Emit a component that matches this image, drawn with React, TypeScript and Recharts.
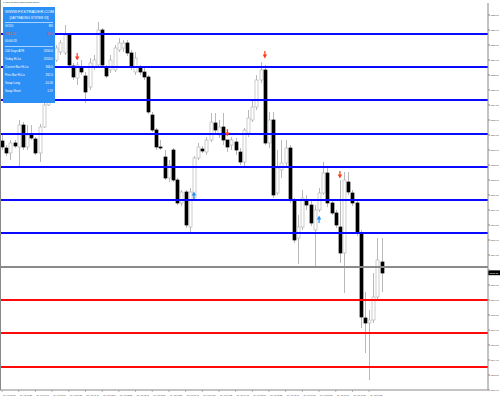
import { ComposedChart, Bar, Line, XAxis, YAxis, ReferenceLine } from 'recharts';

// 5 minute gold candles
const times = [
  '31 Aug 00:05', '31 Aug 00:25', '31 Aug 00:45', '31 Aug 01:05', '31 Aug 01:25', '31 Aug 01:45',
  '31 Aug 02:05', '31 Aug 02:25', '31 Aug 02:45', '31 Aug 03:05', '31 Aug 03:25', '31 Aug 03:45',
  '31 Aug 04:05', '31 Aug 04:25', '31 Aug 04:45', '31 Aug 05:05', '31 Aug 05:25', '31 Aug 05:45',
  '31 Aug 06:05', '31 Aug 06:25', '31 Aug 06:45', '31 Aug 07:05', '31 Aug 07:25',
];

const opens = [
  1315.9, 1315.2, 1314.7, 1315.7, 1315.3, 1317.5, 1315.3, 1316.5, 1316.1, 1314.7,
  1317.3, 1319.5, 1322.0, 1324.0, 1324.8, 1324.7, 1326.5, 1323.4, 1322.2, 1323.3,
  1322.4, 1321.3, 1323.3, 1323.5, 1327.0, 1323.2, 1323.0, 1323.0, 1325.0, 1325.2,
  1325.7, 1324.7, 1322.8, 1323.2, 1322.8, 1322.3, 1318.5, 1317.0, 1315.3, 1314.3,
  1312.2, 1315.0, 1312.0, 1309.7, 1310.8, 1307.3, 1310.2, 1314.2, 1315.1, 1314.8,
  1316.0, 1317.7, 1316.5, 1317.3, 1316.0, 1315.5, 1315.8, 1314.8, 1313.8, 1316.7,
  1318.0, 1319.3, 1322.0, 1323.0, 1315.7, 1318.0, 1310.7, 1313.0, 1313.7, 1315.2,
  1310.0, 1306.2, 1307.3, 1310.0, 1309.5, 1307.0, 1309.0, 1310.7, 1312.7, 1309.7,
  1308.7, 1307.3, 1304.7, 1311.8, 1310.7, 1309.7, 1306.7, 1298.2, 1297.7, 1298.0,
  1300.3, 1303.8,
];
const highs = [
  1316.5, 1315.5, 1316.0, 1316.0, 1318.0, 1317.8, 1317.5, 1317.5, 1316.3, 1317.6,
  1319.7, 1322.5, 1324.5, 1325.5, 1326.0, 1327.5, 1326.7, 1323.7, 1323.8, 1324.0,
  1322.8, 1324.2, 1324.5, 1327.8, 1327.2, 1323.5, 1324.5, 1325.5, 1326.2, 1326.0,
  1326.0, 1325.0, 1324.8, 1323.5, 1323.2, 1322.5, 1318.8, 1317.2, 1316.0, 1315.0,
  1314.0, 1315.2, 1312.2, 1311.0, 1311.0, 1311.2, 1314.4, 1315.7, 1315.4, 1316.3,
  1318.7, 1318.7, 1318.0, 1318.7, 1316.0, 1316.3, 1316.2, 1315.2, 1317.2, 1319.0,
  1320.0, 1322.5, 1323.8, 1323.5, 1318.8, 1318.8, 1315.0, 1316.0, 1316.0, 1315.5,
  1310.2, 1308.5, 1311.0, 1310.5, 1310.0, 1309.5, 1311.2, 1313.8, 1313.2, 1310.0,
  1309.0, 1312.0, 1312.8, 1312.8, 1311.0, 1310.0, 1307.0, 1300.8, 1299.0, 1302.7,
  1306.2, 1306.2,
];
const lows = [
  1315.0, 1314.4, 1314.0, 1315.2, 1313.3, 1315.0, 1315.0, 1316.0, 1314.5, 1313.8,
  1317.2, 1319.4, 1321.5, 1323.8, 1324.5, 1324.5, 1323.3, 1322.0, 1321.5, 1322.5,
  1319.7, 1321.0, 1323.0, 1323.3, 1323.2, 1322.2, 1322.7, 1322.8, 1324.8, 1324.8,
  1324.4, 1323.0, 1322.5, 1322.5, 1322.0, 1318.6, 1316.8, 1315.0, 1315.0, 1312.0,
  1311.8, 1311.8, 1309.5, 1309.4, 1307.2, 1306.8, 1310.0, 1314.0, 1314.7, 1314.5,
  1315.8, 1316.7, 1316.2, 1315.5, 1314.8, 1315.0, 1314.5, 1313.5, 1313.3, 1316.3,
  1317.8, 1319.0, 1321.7, 1315.5, 1315.2, 1310.2, 1310.5, 1312.2, 1313.4, 1309.7,
  1305.7, 1303.6, 1307.0, 1309.0, 1307.4, 1303.3, 1308.8, 1310.5, 1309.3, 1308.5,
  1307.2, 1303.7, 1300.7, 1310.5, 1309.4, 1306.4, 1297.2, 1294.7, 1292.0, 1297.7,
  1300.0, 1300.8,
];
const closes = [
  1315.3, 1314.7, 1315.7, 1315.4, 1317.5, 1315.3, 1316.5, 1316.2, 1314.7, 1317.3,
  1319.5, 1322.0, 1324.0, 1325.2, 1325.7, 1326.5, 1323.5, 1322.3, 1323.5, 1322.8,
  1320.8, 1323.7, 1324.0, 1327.0, 1323.5, 1322.4, 1324.0, 1325.2, 1325.7, 1325.7,
  1324.7, 1323.3, 1324.2, 1322.8, 1322.3, 1318.8, 1317.0, 1315.3, 1315.2, 1312.2,
  1313.5, 1312.0, 1309.7, 1310.8, 1307.5, 1310.8, 1314.2, 1315.3, 1314.9, 1316.0,
  1317.8, 1317.0, 1317.3, 1316.0, 1315.3, 1316.0, 1315.0, 1313.8, 1317.0, 1318.2,
  1319.3, 1322.0, 1323.0, 1315.7, 1318.0, 1310.5, 1313.2, 1313.7, 1315.2, 1310.0,
  1306.0, 1307.3, 1310.2, 1309.5, 1307.7, 1309.0, 1310.7, 1312.7, 1309.7, 1308.7,
  1307.5, 1304.7, 1312.0, 1310.8, 1309.7, 1306.7, 1298.3, 1297.7, 1298.0, 1300.3,
  1304.0, 1302.7,
];

const blueLevels = [1326.6, 1323.3, 1320.0, 1316.6, 1313.3, 1310.0, 1306.7];
const grayLevels = [1303.3];
const redLevels = [1300.0, 1296.7, 1293.3];

// [candle index, price]
const sellSignals = [[18, 1324.3], [54, 1316.7], [63, 1324.5], [81, 1312.5]];
const buySignals = [[46, 1310.5], [76, 1308.1]];

const priceTicks = [
  1328.5, 1327.0, 1325.5, 1324.0, 1322.5, 1321.0, 1319.5, 1318.0, 1316.5, 1315.0, 1313.5, 1312.0, 1310.5,
  1309.0, 1307.5, 1306.0, 1304.5, 1303.0, 1301.5, 1300.0, 1298.5, 1297.0, 1295.5, 1294.0, 1292.5, 1291.0,
];
const lastPrice = 1302.72;
const SLOTS = 117; // bars + empty chart shift on the right

const rows = Array.from({ length: SLOTS }, (_, i) => {
  const s = sellSignals.find((p) => p[0] === i);
  const b = buySignals.find((p) => p[0] === i);
  return {
    i,
    o: opens[i],
    h: highs[i],
    l: lows[i],
    c: closes[i],
    sell: s ? s[1] : null,
    buy: b ? b[1] : null,
  };
});

function Candle(props: any) {
  const { x, y, width, height, payload } = props;
  if (payload == null || payload.h == null) return null;
  const top = Math.min(y, y + height);
  const span = Math.abs(height);
  const range = payload.h - payload.l;
  const k = range > 0 ? span / range : 0;
  const cx = Math.round(x + width / 2) + 0.5;
  const bodyTop = top + (payload.h - Math.max(payload.o, payload.c)) * k;
  const bodyBot = top + (payload.h - Math.min(payload.o, payload.c)) * k;
  const up = payload.c >= payload.o;
  return (
    <g>
      <line x1={cx} x2={cx} y1={top} y2={top + span} stroke="#b8b8b8" strokeWidth={1} />
      <rect
        x={cx - 1.5}
        y={bodyTop}
        width={3}
        height={Math.max(1, bodyBot - bodyTop)}
        fill={up ? '#ffffff' : '#000000'}
        stroke={up ? '#b8b8b8' : '#000000'}
        strokeWidth={0.7}
      />
    </g>
  );
}

function SellArrow(props: any) {
  const { cx, cy, value } = props;
  if (value == null || cy == null) return <g />;
  return (
    <g>
      <rect x={cx - 0.6} y={cy - 4} width={1.2} height={4} fill="#ff3b1a" />
      <path d={`M${cx - 2.2},${cy - 0.5} L${cx + 2.2},${cy - 0.5} L${cx},${cy + 3.5} Z`} fill="#ff3b1a" />
    </g>
  );
}

function BuyArrow(props: any) {
  const { cx, cy, value } = props;
  if (value == null || cy == null) return <g />;
  return (
    <g>
      <rect x={cx - 0.6} y={cy} width={1.2} height={4} fill="#1e8fff" />
      <path d={`M${cx - 2.2},${cy + 0.5} L${cx + 2.2},${cy + 0.5} L${cx},${cy - 3.5} Z`} fill="#1e8fff" />
    </g>
  );
}

function TimeTick(props: any) {
  const { x, payload } = props;
  const i = payload.value;
  if (i % 4 !== 0 || i >= opens.length) return <g />;
  return (
    <g>
      <line x1={x} x2={x} y1={390} y2={392} stroke="#888" strokeWidth={0.6} />
      <text x={x + 1} y={396} fontSize={2.1} fill="#444" fontFamily="Liberation Sans, Arial">
        {times[i / 4]}
      </text>
    </g>
  );
}

function PriceTag(props: any) {
  const { viewBox } = props;
  const x = viewBox.x + viewBox.width;
  const y = viewBox.y;
  return (
    <g>
      <rect x={x} y={y - 2.4} width={12} height={4.8} fill="#000" />
      <text x={x + 1.5} y={y + 1} fontSize={2.4} fill="#fff" fontFamily="Liberation Sans, Arial">
        {lastPrice.toFixed(2)}
      </text>
    </g>
  );
}

const panelRows = [
  ['100 Days ATR', '2650.0'],
  ['Today Hi-Lo', '2053.0'],
  ['Current Bar Hi-Lo', '306.0'],
  ['Prev Bar Hi-Lo', '352.0'],
  ['Swap Long', '-10.05'],
  ['Swap Short', '1.57'],
];

export default function App() {
  return (
    <div style={{ position: 'relative', width: 500, height: 400, background: '#fff', fontFamily: 'Liberation Sans, Arial' }}>
      <style>{'body{margin:0}'}</style>
      <ComposedChart width={500} height={400} data={rows} margin={{ top: 3, right: 0, bottom: 0, left: 0 }} barCategoryGap={0}>
        <XAxis
          dataKey="i"
          type="category"
          interval={0}
          height={10}
          tickLine={false}
          tickSize={0}
          tickMargin={0}
          tick={<TimeTick />}
          axisLine={{ stroke: '#888' }}
        />
        <YAxis
          orientation="right"
          width={12}
          domain={[1291.0, 1329.7]}
          allowDataOverflow
          ticks={priceTicks}
          interval={0}
          tickSize={2}
          tickMargin={0.5}
          tickFormatter={(v: number) => v.toFixed(2)}
          tick={{ fontSize: 2.3, fill: '#444' }}
          axisLine={{ stroke: '#888' }}
          tickLine={{ stroke: '#888' }}
        />
        {blueLevels.map((v) => (
          <ReferenceLine key={'b' + v} y={v} stroke="#0a0aff" strokeWidth={2} />
        ))}
        {grayLevels.map((v) => (
          <ReferenceLine key={'g' + v} y={v} stroke="#8a8a8a" strokeWidth={2} />
        ))}
        {redLevels.map((v) => (
          <ReferenceLine key={'r' + v} y={v} stroke="#ff0a0a" strokeWidth={2} />
        ))}
        <Bar dataKey={(d: any) => (d.h == null ? null : [d.l, d.h])} shape={<Candle />} isAnimationActive={false} />
        <Line dataKey="sell" stroke="none" dot={<SellArrow />} activeDot={false} isAnimationActive={false} />
        <Line dataKey="buy" stroke="none" dot={<BuyArrow />} activeDot={false} isAnimationActive={false} />
        <ReferenceLine y={lastPrice} stroke="none" label={<PriceTag />} />
      </ComposedChart>

      <div style={{ position: 'absolute', left: 0, top: 0, width: 0, height: 390, borderLeft: '1px solid #888' }} />
      <div style={{ position: 'absolute', left: 3, top: 0, fontSize: 1.7, lineHeight: '4px', color: '#222', whiteSpace: 'nowrap' }}>
        ▼ GOLD,M5 1302.60 1302.98 1302.55 1302.72
      </div>

      <div
        style={{
          position: 'absolute',
          left: 3,
          top: 7,
          width: 52,
          height: 96,
          background: '#2b8ff5',
          color: '#fff',
          fontSize: 3,
          lineHeight: '7.6px',
          boxSizing: 'border-box',
          padding: '1px 2px',
        }}
      >
        <div style={{ textAlign: 'center', fontSize: 4.2, lineHeight: '8px' }}>WWW.FXSTRADER.COM</div>
        <div style={{ textAlign: 'center', fontSize: 3, lineHeight: '5px' }}>[DAYTRADING SYSTEM V3]</div>
        <div style={{ borderTop: '1px solid #a9d3ff', margin: '1px 0 0' }} />
        <div style={{ display: 'flex', justifyContent: 'space-between' }}>
          <span>GOLD</span>
          <span>M5</span>
        </div>
        <div style={{ display: 'flex', justifyContent: 'space-between', color: '#ff4a3a' }}>
          <span>2013.32</span>
          <span>45.0</span>
        </div>
        <div>00:00:28</div>
        <div style={{ borderTop: '1px solid #a9d3ff' }} />
        {panelRows.map(([k, v]) => (
          <div key={k} style={{ display: 'flex', justifyContent: 'space-between', lineHeight: '8px' }}>
            <span>{k}</span>
            <span>{v}</span>
          </div>
        ))}
      </div>
    </div>
  );
}
